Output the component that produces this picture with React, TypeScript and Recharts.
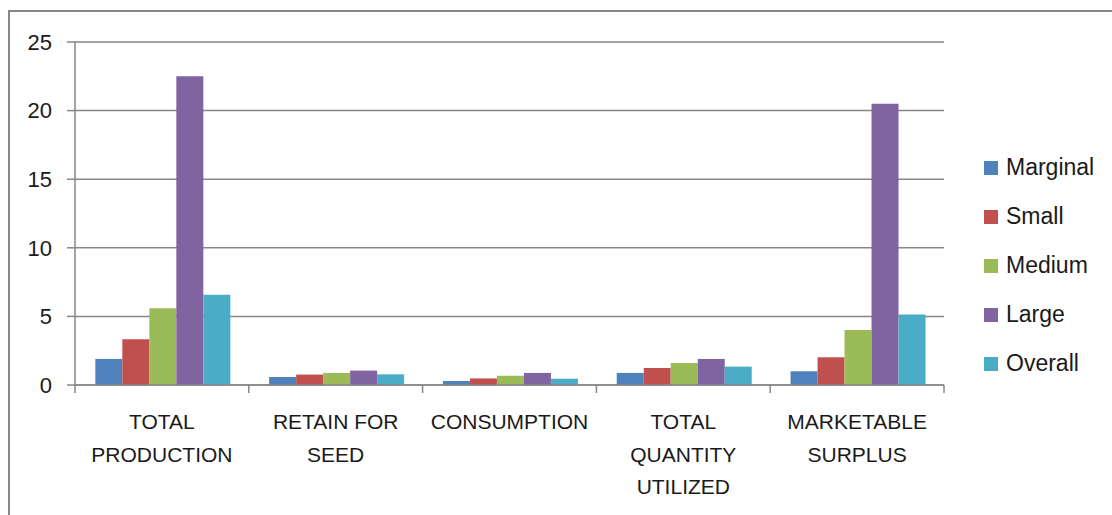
import { BarChart, Bar, XAxis, YAxis, CartesianGrid, Legend } from "recharts";

const categories = [
  "TOTAL PRODUCTION",
  "RETAIN FOR SEED",
  "CONSUMPTION",
  "TOTAL QUANTITY UTILIZED",
  "MARKETABLE SURPLUS",
];
// how each category label wraps under the axis
const categoryLines = [
  ["TOTAL", "PRODUCTION"],
  ["RETAIN FOR", "SEED"],
  ["CONSUMPTION"],
  ["TOTAL", "QUANTITY", "UTILIZED"],
  ["MARKETABLE", "SURPLUS"],
];

const marginal = [1.9, 0.58, 0.29, 0.88, 1.0];
const small = [3.33, 0.76, 0.48, 1.24, 2.02];
const medium = [5.6, 0.88, 0.68, 1.6, 4.0];
const large = [22.5, 1.05, 0.88, 1.9, 20.5];
const overall = [6.57, 0.78, 0.46, 1.34, 5.14];

const yTicks = [0, 5, 10, 15, 20, 25];

const series = [
  { key: "Marginal", color: "#4F81BD" },
  { key: "Small", color: "#C0504D" },
  { key: "Medium", color: "#9BBB59" },
  { key: "Large", color: "#8064A2" },
  { key: "Overall", color: "#4BACC6" },
];

const data = categories.map((name, i) => ({
  name,
  Marginal: marginal[i],
  Small: small[i],
  Medium: medium[i],
  Large: large[i],
  Overall: overall[i],
}));

const AXIS = "#878787";
const TEXT = "#1a1a1a";
const PLOT_LEFT = 75;
const PLOT_RIGHT = 944;
const BAND = (PLOT_RIGHT - PLOT_LEFT) / categories.length;

const CategoryTick = ({ x, y, index }: any) => {
  const lines = categoryLines[index] || [];
  const axisY = y - 8;
  return (
    <g>
      <line x1={x + BAND / 2} x2={x + BAND / 2} y1={axisY} y2={axisY + 8} stroke={AXIS} strokeWidth={1.5} />
      {index === 0 && (
        <line x1={x - BAND / 2} x2={x - BAND / 2} y1={axisY} y2={axisY + 8} stroke={AXIS} strokeWidth={1.5} />
      )}
      <text
        x={x}
        y={y}
        textAnchor="middle"
        fill={TEXT}
        fontSize={21}
        fontFamily="'Liberation Sans', Arial, sans-serif"
      >
        {lines.map((l, i) => (
          <tspan key={i} x={x} y={y + 36 + i * 32.5}>
            {l}
          </tspan>
        ))}
      </text>
    </g>
  );
};

const LegendList = () => (
  <ul style={{ listStyle: "none", margin: 0, padding: 0 }}>
    {series.map((s) => (
      <li
        key={s.key}
        style={{
          height: 49,
          display: "flex",
          alignItems: "center",
          fontSize: 23,
          color: TEXT,
          fontFamily: "'Liberation Sans', Arial, sans-serif",
        }}
      >
        <span style={{ width: 14, height: 14, background: s.color, marginRight: 8, display: "inline-block" }} />
        {s.key}
      </li>
    ))}
  </ul>
);

export default function App() {
  return (
    <div style={{ position: "fixed", left: 0, top: 0, width: 1112, height: 515, overflow: "hidden", background: "#fff" }}>
      <div
        style={{
          position: "absolute",
          left: 8,
          top: 10,
          width: 1200,
          height: 600,
          borderTop: `2px solid ${AXIS}`,
          borderLeft: `2px solid ${AXIS}`,
        }}
      />
      <div style={{ position: "absolute", left: 0, top: 0 }}>
        <BarChart
          width={1112}
          height={515}
          data={data}
          margin={{ top: 42, right: 1112 - PLOT_RIGHT, bottom: 20, left: PLOT_LEFT - 60 }}
          barCategoryGap="11.7%"
          barGap={0}
        >
          <CartesianGrid horizontal vertical={false} stroke={AXIS} strokeWidth={1.5} />
          <XAxis
            dataKey="name"
            interval={0}
            height={110}
            tickLine={false}
            tickSize={8}
            tickMargin={0}
            axisLine={{ stroke: AXIS, strokeWidth: 1.5 }}
            tick={<CategoryTick />}
          />
          <YAxis
            width={60}
            domain={[0, 25]}
            ticks={yTicks}
            interval={0}
            tickSize={8}
            tickMargin={15}
            axisLine={{ stroke: AXIS, strokeWidth: 1.5 }}
            tickLine={{ stroke: AXIS, strokeWidth: 1.5 }}
            tick={{ fill: TEXT, fontSize: 22, fontFamily: "'Liberation Sans', Arial, sans-serif" }}
          />
          <Legend
            layout="vertical"
            align="center"
            verticalAlign="middle"
            content={<LegendList />}
            wrapperStyle={{ left: 984, top: 143, width: 128 }}
          />
          {series.map((s) => (
            <Bar key={s.key} dataKey={s.key} fill={s.color} isAnimationActive={false} />
          ))}
        </BarChart>
      </div>
    </div>
  );
}
